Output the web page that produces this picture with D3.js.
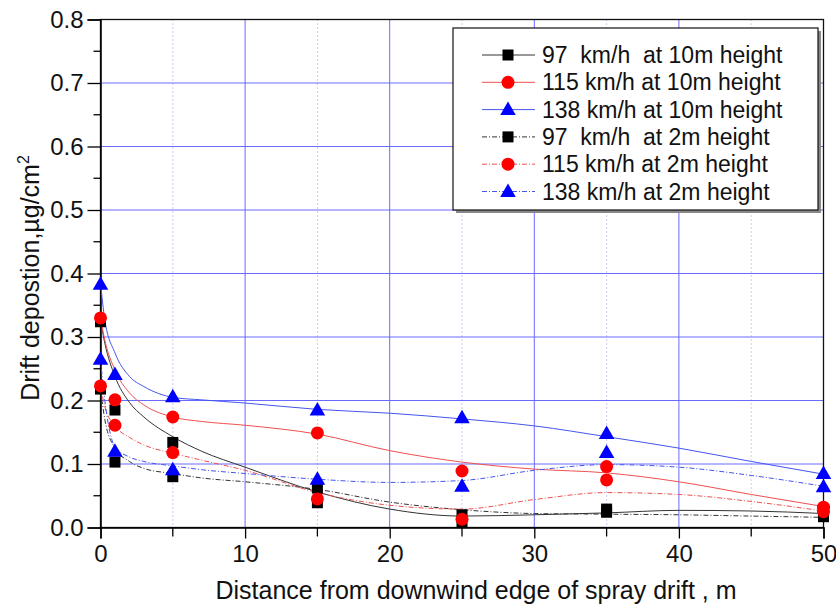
<!DOCTYPE html>
<html>
<head>
<meta charset="utf-8">
<script src="https://cdn.jsdelivr.net/npm/d3@7"></script>
<style>
  body { margin: 0; background: #fff; }
  svg { font-family: "Liberation Sans", Arial, sans-serif; }
</style>
</head>
<body>
<svg id="chart" width="836" height="606"></svg>
<script>
// measured points
const xPoints = [0, 1, 5, 15, 25, 35, 50];
const pts97at10 = [0.324, 0.185, 0.134, 0.062, 0.020, 0.029, 0.021];
const pts115at10 = [0.330, 0.201, 0.174, 0.149, 0.089, 0.096, 0.032];
const pts138at10 = [0.383, 0.241, 0.206, 0.185, 0.173, 0.148, 0.085];
const pts97at2 = [0.218, 0.103, 0.080, 0.039, 0.008, 0.024, 0.017];
const pts115at2 = [0.223, 0.161, 0.118, 0.045, 0.013, 0.075, 0.025];
const pts138at2 = [0.265, 0.120, 0.091, 0.076, 0.065, 0.118, 0.064];

// fitted curves
const fitX = [0, 0.3, 1, 2, 3, 5, 7, 10, 15, 20, 25, 30, 35, 40, 45, 50];
const fit97at10 = [0.325, 0.290, 0.238, 0.197, 0.174, 0.143, 0.120, 0.095, 0.056, 0.029, 0.018, 0.020, 0.023, 0.027, 0.026, 0.022];
const fit115at10 = [0.330, 0.295, 0.248, 0.212, 0.193, 0.174, 0.167, 0.161, 0.147, 0.121, 0.103, 0.092, 0.086, 0.072, 0.052, 0.033];
const fit138at10 = [0.385, 0.327, 0.275, 0.238, 0.222, 0.205, 0.201, 0.196, 0.186, 0.180, 0.171, 0.160, 0.143, 0.125, 0.104, 0.084];
const fit97at2 = [0.218, 0.170, 0.125, 0.104, 0.093, 0.085, 0.078, 0.072, 0.060, 0.040, 0.028, 0.022, 0.021, 0.020, 0.018, 0.016];
const fit115at2 = [0.222, 0.190, 0.160, 0.142, 0.130, 0.117, 0.106, 0.090, 0.055, 0.035, 0.029, 0.044, 0.055, 0.052, 0.041, 0.026];
const fit138at2 = [0.265, 0.200, 0.127, 0.111, 0.104, 0.097, 0.091, 0.085, 0.076, 0.071, 0.074, 0.090, 0.099, 0.095, 0.082, 0.065];

const seriesNames = ['97  km/h  at 10m height', '115 km/h at 10m height', '138 km/h at 10m height',
                     '97  km/h  at 2m height', '115 km/h at 2m height', '138 km/h at 2m height'];
const xTicks = [0, 10, 20, 30, 40, 50];
const xMinorTicks = [5, 15, 25, 35, 45];
const yTicks = [0.0, 0.1, 0.2, 0.3, 0.4, 0.5, 0.6, 0.7, 0.8];

const series = [
    {name: seriesNames[0], pts: pts97at10, fit: fit97at10, marker: 'square', color: '#000', line: '#333', dash: null},
    {name: seriesNames[1], pts: pts115at10, fit: fit115at10, marker: 'circle', color: '#ff0000', line: '#f05050', dash: null},
    {name: seriesNames[2], pts: pts138at10, fit: fit138at10, marker: 'triangle', color: '#0000ff', line: '#4455ee', dash: null},
    {name: seriesNames[3], pts: pts97at2, fit: fit97at2, marker: 'square', color: '#000', line: '#333', dash: '5,2,1,2'},
    {name: seriesNames[4], pts: pts115at2, fit: fit115at2, marker: 'circle', color: '#ff0000', line: '#f05050', dash: '5,2,1,2'},
    {name: seriesNames[5], pts: pts138at2, fit: fit138at2, marker: 'triangle', color: '#0000ff', line: '#4455ee', dash: '5,2,1,2'}
];

const svg = d3.select('#chart');
const pLeft = 100.5, pRight = 823.5, pTop = 19.5, pBottom = 527.5;

const x = d3.scaleLinear().domain([0, 50]).range([pLeft, pRight]);
const y = d3.scaleLinear().domain([0, 0.8]).range([pBottom, pTop]);

// grid
svg.append('g').selectAll('line').data(xTicks.slice(1, -1)).join('line')
    .attr('x1', d => x(d)).attr('x2', d => x(d)).attr('y1', pTop).attr('y2', pBottom)
    .attr('stroke', '#6a6aff').attr('stroke-width', 1);
svg.append('g').selectAll('line').data(xMinorTicks).join('line')
    .attr('x1', d => x(d)).attr('x2', d => x(d)).attr('y1', pTop).attr('y2', pBottom)
    .attr('stroke', '#9a9ae8').attr('stroke-width', 1).attr('stroke-dasharray', '1,3');
svg.append('g').selectAll('line').data(yTicks.slice(1, -1)).join('line')
    .attr('x1', pLeft).attr('x2', pRight).attr('y1', d => y(d)).attr('y2', d => y(d))
    .attr('stroke', '#6a6aff').attr('stroke-width', 1);

// frame
svg.append('rect').attr('x', pLeft).attr('y', pTop).attr('width', pRight - pLeft).attr('height', pBottom - pTop)
    .attr('fill', 'none').attr('stroke', '#111').attr('stroke-width', 1.3);

// axes
const yAxis = d3.axisLeft(y).tickValues(yTicks).tickFormat(d3.format('.1f')).tickSize(13).tickPadding(4);
const gy = svg.append('g').attr('transform', `translate(${pLeft},0)`).call(yAxis);
gy.select('.domain').attr('stroke-width', 1.5);
gy.selectAll('.tick line').attr('stroke-width', 1.3);
gy.selectAll('.tick text').attr('font-size', 24).attr('fill', '#111');
gy.append('g').selectAll('line').data(d3.range(0.05, 0.8, 0.1)).join('line')
    .attr('x1', -7).attr('x2', 0).attr('y1', d => y(d)).attr('y2', d => y(d))
    .attr('stroke', '#000').attr('stroke-width', 1.3);

const xAxis = d3.axisBottom(x).tickValues(xTicks).tickSize(11).tickPadding(6);
const gx = svg.append('g').attr('transform', `translate(0,${pBottom})`).call(xAxis);
gx.select('.domain').attr('stroke-width', 1.5);
gx.selectAll('.tick line').attr('stroke-width', 1.3);
gx.selectAll('.tick text').attr('font-size', 24).attr('fill', '#111');
gx.append('g').selectAll('line').data(xMinorTicks).join('line')
    .attr('x1', d => x(d)).attr('x2', d => x(d)).attr('y1', 0).attr('y2', 9)
    .attr('stroke', '#000').attr('stroke-width', 1.3);

// titles
svg.append('text').attr('x', 476).attr('y', 599).attr('text-anchor', 'middle')
    .attr('font-size', 25).attr('fill', '#111').text('Distance from downwind edge of spray drift , m');
const yTitle = svg.append('text').attr('transform', 'translate(39,278) rotate(-90)')
    .attr('text-anchor', 'middle').attr('font-size', 25).attr('fill', '#111');
yTitle.append('tspan').text('Drift depostion,µg/cm');
yTitle.append('tspan').attr('font-size', 16).attr('dy', -10).text('2');

// fitted curves
const line = d3.line().x(d => x(d[0])).y(d => y(d[1])).curve(d3.curveMonotoneX);
series.forEach(s => {
    svg.append('path').datum(fitX.map((v, i) => [v, s.fit[i]]))
        .attr('d', line).attr('fill', 'none').attr('stroke', s.line)
        .attr('stroke-width', 1).attr('stroke-dasharray', s.dash);
});

function drawMarker(g, type, color, cx, cy) {
    if (type === 'square') {
        g.append('rect').attr('x', cx - 5.5).attr('y', cy - 5.5).attr('width', 11).attr('height', 11).attr('fill', color);
    } else if (type === 'circle') {
        g.append('circle').attr('cx', cx).attr('cy', cy).attr('r', 6.5).attr('fill', color);
    } else {
        g.append('path').attr('d', d3.symbol(d3.symbolTriangle, 105)()).attr('transform', `translate(${cx},${cy + 1})`).attr('fill', color);
    }
}

const markerG = svg.append('g');
series.forEach(s => {
    s.pts.forEach((v, i) => drawMarker(markerG, s.marker, s.color, x(xPoints[i]), y(v)));
});

// legend
const lg = svg.append('g');
lg.append('rect').attr('x', 456).attr('y', 31).attr('width', 365).attr('height', 182).attr('fill', '#888');
lg.append('rect').attr('x', 453).attr('y', 28).attr('width', 365).attr('height', 182)
    .attr('fill', '#fff').attr('stroke', '#111').attr('stroke-width', 1.2);
series.forEach((s, i) => {
    const ly = 55 + i * 27.3;
    lg.append('line').attr('x1', 482).attr('x2', 535).attr('y1', ly).attr('y2', ly)
        .attr('stroke', s.line).attr('stroke-width', 1).attr('stroke-dasharray', s.dash);
    drawMarker(lg, s.marker, s.color, 508, ly);
    lg.append('text').attr('x', 542).attr('y', ly + 8).attr('font-size', 23).attr('fill', '#111')
        .style('white-space', 'pre').text(s.name);
});
</script>
</body>
</html>
